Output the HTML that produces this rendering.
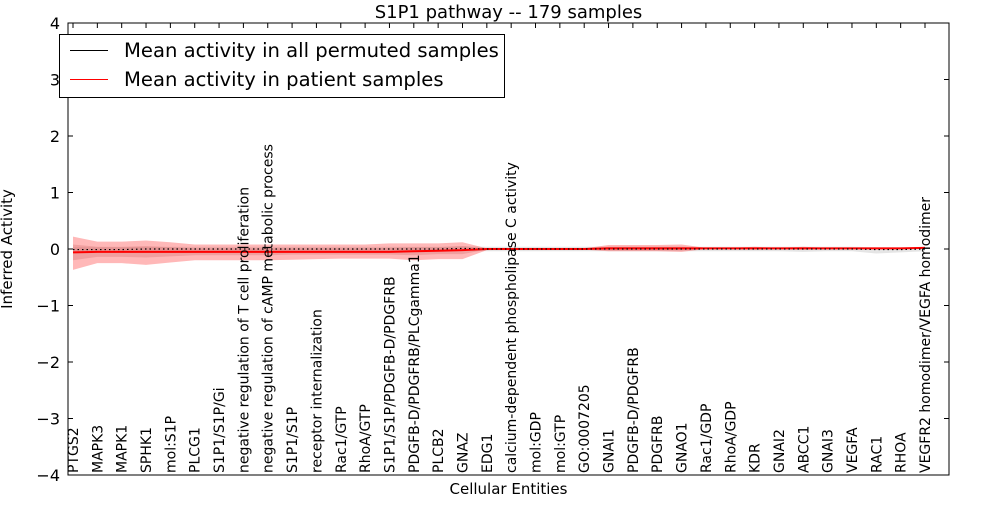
<!DOCTYPE html>
<html><head><meta charset="utf-8"><style>
body{margin:0;background:#fff;font-family:"Liberation Sans","DejaVu Sans",sans-serif}
svg text{font-family:"DejaVu Sans","Liberation Sans",sans-serif}
</style></head><body>
<svg id="chart" width="1000" height="500" xmlns="http://www.w3.org/2000/svg"></svg>
<script>
const categories=["PTGS2","MAPK3","MAPK1","SPHK1","mol:S1P","PLCG1","S1P1/S1P/Gi","negative regulation of T cell proliferation","negative regulation of cAMP metabolic process","S1P1/S1P","receptor internalization","Rac1/GTP","RhoA/GTP","S1P1/S1P/PDGFB-D/PDGFRB","PDGFB-D/PDGFRB/PLCgamma1","PLCB2","GNAZ","EDG1","calcium-dependent phospholipase C activity","mol:GDP","mol:GTP","GO:0007205","GNAI1","PDGFB-D/PDGFRB","PDGFRB","GNAO1","Rac1/GDP","RhoA/GDP","KDR","GNAI2","ABCC1","GNAI3","VEGFA","RAC1","RHOA","VEGFR2 homodimer/VEGFA homodimer"];
const patientMean=[-0.06,-0.05,-0.05,-0.05,-0.05,-0.05,-0.05,-0.05,-0.05,-0.05,-0.05,-0.05,-0.05,-0.05,-0.04,-0.03,-0.02,0,0,0,0,0,0.01,0.01,0.01,0.01,0.01,0.01,0.01,0.01,0.01,0.01,0.01,0.01,0.01,0.02];
const patientOuterHi=[0.22,0.13,0.13,0.15,0.12,0.08,0.08,0.08,0.08,0.08,0.08,0.08,0.08,0.1,0.1,0.1,0.12,0.01,0.01,0.01,0.01,0.01,0.07,0.07,0.07,0.08,0.02,0.02,0.04,0.02,0.04,0.02,0.02,0.02,0.02,0.04];
const patientOuterLo=[-0.37,-0.25,-0.25,-0.28,-0.24,-0.2,-0.2,-0.2,-0.2,-0.19,-0.18,-0.17,-0.17,-0.17,-0.2,-0.18,-0.18,-0.02,-0.01,-0.01,-0.01,-0.01,-0.04,-0.04,-0.04,-0.05,0,0,-0.01,0,-0.01,0,0,0,0,0];
const patientInnerHi=[0.08,0.04,0.04,0.05,0.03,0.01,0.01,0.01,0.01,0.01,0.01,0.01,0.01,0.02,0.03,0.03,0.05,0.005,0.005,0.005,0.005,0.005,0.04,0.04,0.04,0.04,0.015,0.015,0.025,0.015,0.025,0.015,0.015,0.015,0.015,0.03];
const patientInnerLo=[-0.2,-0.14,-0.14,-0.15,-0.13,-0.11,-0.11,-0.11,-0.11,-0.1,-0.1,-0.1,-0.1,-0.1,-0.11,-0.09,-0.09,-0.01,-0.005,-0.005,-0.005,-0.005,-0.02,-0.02,-0.02,-0.02,0.005,0.005,0,0.005,0,0.005,0.005,0.005,0.005,0.01];
const permMean=[-0.01,-0.01,-0.01,0,0,0,0,0,0,0,0,0,0,0,0,0,0.01,0,0,0,0,0,0,0,0,0,0,0,0,0,0,0,0,-0.01,-0.01,0];
const permHi=[0.03,0.03,0.03,0.04,0.04,0.04,0.04,0.04,0.04,0.04,0.04,0.04,0.04,0.04,0.04,0.04,0.05,0.04,0.04,0.04,0.04,0.04,0.04,0.04,0.04,0.04,0.04,0.04,0.04,0.04,0.04,0.04,0.04,0.03,0.03,0.04];
const permLo=[-0.05,-0.05,-0.05,-0.04,-0.04,-0.04,-0.04,-0.04,-0.04,-0.04,-0.04,-0.04,-0.04,-0.04,-0.04,-0.04,-0.03,-0.04,-0.04,-0.04,-0.04,-0.04,-0.04,-0.04,-0.04,-0.04,-0.04,-0.04,-0.04,-0.04,-0.05,-0.04,-0.04,-0.08,-0.06,-0.04];
const yTicks=[-4,-3,-2,-1,0,1,2,3,4];
const yTickLabels=["\u22124","\u22123","\u22122","\u22121","0","1","2","3","4"];

const NS="http://www.w3.org/2000/svg";
const svg=document.getElementById('chart');
const L=68,R=949,T=23,B=475;
const x=i=>L+5+i*(R-L-29)/(categories.length-1);
const y=v=>T+(4-v)*(B-T)/8;
function mk(tag,attrs,parent){const e=document.createElementNS(NS,tag);for(const k in attrs)e.setAttribute(k,attrs[k]);(parent||svg).appendChild(e);return e;}
function band(hi,lo,fill,op,name){
  let d="M"+hi.map((v,i)=>x(i)+","+y(v)).join(" L");
  d+=" L"+lo.map((v,i)=>x(i)+","+y(v)).reverse().join(" L")+" Z";
  const p=mk('path',{d:d,fill:fill,'fill-opacity':op,stroke:'none'});
  
  
}
band(permHi,permLo,'#999',0.25,'permuted-band');
band(patientOuterHi,patientOuterLo,'#f33',0.35,'patient-outer-band');
band(patientInnerHi,patientInnerLo,'#c66',0.3,'patient-inner-band');
const pm=mk('polyline',{points:patientMean.map((v,i)=>x(i)+","+y(v)).join(" "),fill:'none',stroke:'#f00','stroke-width':2});


const bm=mk('polyline',{points:permMean.map((v,i)=>x(i)+","+y(v)).join(" "),fill:'none',stroke:'#000','stroke-width':1.2,'stroke-dasharray':'1.5,3'});


const frame=mk('rect',{x:L,y:T,width:R-L,height:B-T,fill:'none',stroke:'#000','stroke-width':1});


yTicks.forEach((t,i)=>{
  mk('line',{x1:L,x2:L+5,y1:y(t),y2:y(t),stroke:'#000'});
  mk('line',{x1:R-5,x2:R,y1:y(t),y2:y(t),stroke:'#000'});
  const tx=mk('text',{x:L-8,y:y(t)+6,'text-anchor':'end','font-size':16});
  tx.textContent=yTickLabels[i];
  
  
});
categories.forEach((c,i)=>{
  mk('line',{x1:x(i),x2:x(i),y1:T,y2:T+5,stroke:'#000'});
  const tx=mk('text',{x:0,y:0,transform:`translate(${x(i)+5},${B-2}) rotate(-90)`,'font-size':14});
  tx.textContent=c;
  
  
});
const title=mk('text',{x:(L+R)/2,y:18,'text-anchor':'middle','font-size':18});
title.textContent="S1P1 pathway -- 179 samples";


const xt=mk('text',{x:(L+R)/2,y:494,'text-anchor':'middle','font-size':15});
xt.textContent="Cellular Entities";


const yt=mk('text',{x:0,y:0,transform:`translate(12,${(T+B)/2}) rotate(-90)`,'text-anchor':'middle','font-size':15});
yt.textContent="Inferred Activity";


const lg=mk('g',{});


mk('rect',{x:59.5,y:34.5,width:445,height:63,fill:'#fff',stroke:'#000'},lg);
mk('line',{x1:70,x2:108,y1:50.5,y2:50.5,stroke:'#000','stroke-width':1},lg);
mk('line',{x1:70,x2:108,y1:79.5,y2:79.5,stroke:'#f00','stroke-width':1},lg);
const l1=mk('text',{x:124,y:57,'font-size':19.6},lg);l1.textContent="Mean activity in all permuted samples";


const l2=mk('text',{x:124,y:86,'font-size':19.6},lg);l2.textContent="Mean activity in patient samples";


</script>
</body></html>
